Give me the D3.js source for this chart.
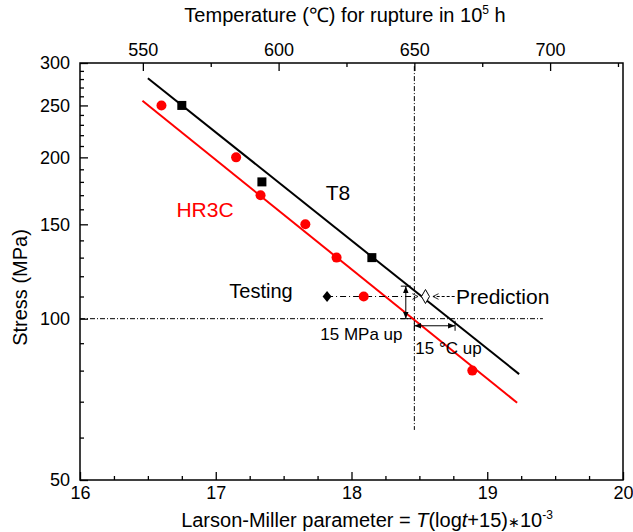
<!DOCTYPE html>
<html>
<head>
<meta charset="utf-8">
<script src="https://cdn.jsdelivr.net/npm/d3@7"></script>
<style>
  body { margin: 0; background: #fff; }
  svg { font-family: "Liberation Sans", Arial, sans-serif; }
  .axis text { font-size: 18px; fill: #000; }
  .axis line { stroke: #000; stroke-width: 1.3; }
  .axis path { display: none; }
</style>
</head>
<body>
<div id="chart"></div>
<script>
const WIDTH        = 633;
const HEIGHT       = 532;
const MARGIN       = { top: 63, right: 10, bottom: 52, left: 80 };
const INNER_WIDTH  = WIDTH - MARGIN.left - MARGIN.right;
const INNER_HEIGHT = HEIGHT - MARGIN.top - MARGIN.bottom;

// data (x = Larson-Miller parameter, y = stress MPa)
const hr3cLmp     = [16.60, 17.15, 17.33, 17.66, 17.89, 18.09, 18.89];
const hr3cStress  = [250, 200, 170, 150, 130, 110, 80];
const t8Lmp       = [16.75, 17.34, 18.15];
const t8Stress    = [250, 180, 130];
const hr3cFitLmp  = [16.46, 19.22];
const hr3cFitSt   = [255, 69.7];
const t8FitLmp    = [16.50, 19.235];
const t8FitSt     = [281, 78.8];
const testingLmp  = [17.82];
const testingSt   = [110];
const predictLmp  = [18.545];
const predictSt   = [110];

// ticks
const lmpMajor    = [16, 17, 18, 19, 20];
const lmpMinor    = [16.25, 16.5, 16.75, 17.25, 17.5, 17.75, 18.25, 18.5, 18.75, 19.25, 19.5, 19.75];
const tempMajor   = [550, 600, 650, 700];
const tempMinor   = [575, 625, 675, 725];
const stressMajor = [50, 100, 150, 200, 250, 300];
const stressMinor = [60, 70, 80, 90, 110, 120, 130, 140, 160, 170, 180, 190, 210, 220, 230, 240, 260, 270, 280, 290];

const svg = d3.select('#chart').append('svg')
  .attr('width', WIDTH)
  .attr('height', HEIGHT)
  .append('g')
    .attr('transform', 'translate(' + MARGIN.left + ',' + MARGIN.top + ')');

const x  = d3.scaleLinear().domain([16, 20]).range([0, INNER_WIDTH]);
// LMP = (T + 273.15) * 0.02 for t = 1e5 h
const xT = d3.scaleLinear().domain([16 / 0.02 - 273.15, 20 / 0.02 - 273.15]).range([0, INNER_WIDTH]);
const y  = d3.scaleLog().domain([50, 300]).range([INNER_HEIGHT, 0]);

// axes, ticks pointing inwards
svg.append('g').attr('class', 'axis')
  .attr('transform', 'translate(0,' + INNER_HEIGHT + ')')
  .call(d3.axisBottom(x).tickValues(lmpMajor).tickSizeInner(-8).tickSizeOuter(0).tickPadding(6).tickFormat(d3.format('d')));
svg.append('g').attr('class', 'axis')
  .attr('transform', 'translate(0,' + INNER_HEIGHT + ')')
  .call(d3.axisBottom(x).tickValues(lmpMinor).tickSize(-4).tickFormat(''));
svg.append('g').attr('class', 'axis')
  .call(d3.axisTop(xT).tickValues(tempMajor).tickSizeInner(-8).tickSizeOuter(0).tickPadding(7).tickFormat(d3.format('d')));
svg.append('g').attr('class', 'axis')
  .call(d3.axisTop(xT).tickValues(tempMinor).tickSize(-4).tickFormat(''));
svg.append('g').attr('class', 'axis')
  .call(d3.axisLeft(y).tickValues(stressMajor).tickSizeInner(-8).tickSizeOuter(0).tickPadding(10).tickFormat(d3.format('d')));
svg.append('g').attr('class', 'axis')
  .call(d3.axisLeft(y).tickValues(stressMinor).tickSize(-4).tickFormat(''));

// frame
svg.append('rect')
  .attr('width', INNER_WIDTH)
  .attr('height', INNER_HEIGHT)
  .attr('fill', 'none')
  .attr('stroke', '#000')
  .attr('stroke-width', 1.5);

// reference lines: 650 C and 100 MPa
svg.append('line')
  .attr('x1', xT(650)).attr('x2', xT(650))
  .attr('y1', y(296)).attr('y2', y(62))
  .attr('stroke', '#000').attr('stroke-width', 1)
  .attr('stroke-dasharray', '5,2,1,2');
svg.append('line')
  .attr('x1', x(16)).attr('x2', x(19.41))
  .attr('y1', y(100)).attr('y2', y(100))
  .attr('stroke', '#000').attr('stroke-width', 1)
  .attr('stroke-dasharray', '5,2,1,2');

// fitted lines
const fit = (xs, ys) => d3.line().x((d, i) => x(xs[i])).y((d, i) => y(ys[i]))(xs);
svg.append('path').attr('d', fit(t8FitLmp, t8FitSt))
  .attr('fill', 'none').attr('stroke', '#000').attr('stroke-width', 2);
svg.append('path').attr('d', fit(hr3cFitLmp, hr3cFitSt))
  .attr('fill', 'none').attr('stroke', '#ff0000').attr('stroke-width', 2);

// arrowhead markers
const defs = svg.append('defs');
defs.append('marker')
  .attr('id', 'open')
  .attr('viewBox', '0 0 10 10')
  .attr('refX', 9).attr('refY', 5)
  .attr('markerWidth', 7).attr('markerHeight', 7)
  .attr('markerUnits', 'userSpaceOnUse')
  .attr('orient', 'auto-start-reverse')
  .append('path')
    .attr('d', 'M1,1 L9,5 L1,9')
    .attr('fill', 'none').attr('stroke', '#000').attr('stroke-width', 1.2);
defs.append('marker')
  .attr('id', 'solid')
  .attr('viewBox', '0 0 10 10')
  .attr('refX', 10).attr('refY', 5)
  .attr('markerWidth', 7).attr('markerHeight', 7)
  .attr('markerUnits', 'userSpaceOnUse')
  .attr('orient', 'auto-start-reverse')
  .append('path')
    .attr('d', 'M0,1 L10,5 L0,9 Z')
    .attr('fill', '#000');

// testing -> 650 C dash-dot arrow
svg.append('line')
  .attr('x1', x(testingLmp[0])).attr('x2', x(18.49))
  .attr('y1', y(testingSt[0])).attr('y2', y(testingSt[0]))
  .attr('stroke', '#000').attr('stroke-width', 1)
  .attr('stroke-dasharray', '6,3,1,3')
  .attr('marker-end', 'url(#open)');
// prediction pointer
svg.append('line')
  .attr('x1', x(18.76)).attr('x2', x(18.60))
  .attr('y1', y(110)).attr('y2', y(110))
  .attr('stroke', '#000').attr('stroke-width', 1)
  .attr('stroke-dasharray', '3,2')
  .attr('marker-end', 'url(#open)');

// 15 MPa up
const mpaX = x(18.40);
svg.append('line')
  .attr('x1', mpaX).attr('x2', mpaX)
  .attr('y1', y(100)).attr('y2', y(115))
  .attr('stroke', '#000').attr('stroke-width', 1)
  .attr('marker-start', 'url(#solid)').attr('marker-end', 'url(#solid)');
[100, 115].forEach(s => {
  svg.append('line')
    .attr('x1', mpaX - 5).attr('x2', mpaX + 5)
    .attr('y1', y(s)).attr('y2', y(s))
    .attr('stroke', '#000').attr('stroke-width', 1);
});
// 15 C up
const cY = y(97);
svg.append('line')
  .attr('x1', xT(650)).attr('x2', xT(665))
  .attr('y1', cY).attr('y2', cY)
  .attr('stroke', '#000').attr('stroke-width', 1)
  .attr('marker-start', 'url(#solid)').attr('marker-end', 'url(#solid)');
[650, 665].forEach(t => {
  svg.append('line')
    .attr('x1', xT(t)).attr('x2', xT(t))
    .attr('y1', cY - 5).attr('y2', cY + 5)
    .attr('stroke', '#000').attr('stroke-width', 1);
});

// markers
svg.selectAll('.hr3c').data(hr3cLmp).enter().append('circle')
  .attr('cx', d => x(d))
  .attr('cy', (d, i) => y(hr3cStress[i]))
  .attr('r', 5)
  .attr('fill', '#ff0000');
svg.selectAll('.t8').data(t8Lmp).enter().append('rect')
  .attr('x', d => x(d) - 4.5)
  .attr('y', (d, i) => y(t8Stress[i]) - 4.5)
  .attr('width', 9).attr('height', 9)
  .attr('fill', '#000');
const diamond = (cx, cy, w, h) => 'M' + cx + ',' + (cy - h) + 'L' + (cx + w) + ',' + cy + 'L' + cx + ',' + (cy + h) + 'L' + (cx - w) + ',' + cy + 'Z';
svg.selectAll('.testing').data(testingLmp).enter().append('path')
  .attr('d', (d, i) => diamond(x(d), y(testingSt[i]), 4.5, 5.5))
  .attr('fill', '#000');
svg.selectAll('.pred').data(predictLmp).enter().append('path')
  .attr('d', (d, i) => diamond(x(d), y(predictSt[i]), 4, 7))
  .attr('fill', '#fff').attr('stroke', '#000').attr('stroke-width', 1);

// labels
const label = (lmp, st, txt, size, color) => svg.append('text')
  .attr('x', x(lmp)).attr('y', y(st))
  .style('font-size', size + 'px')
  .attr('fill', color)
  .text(txt);
label(17.81, 166.5, 'T8', 21, '#000');
label(16.71, 155, 'HR3C', 21, '#ff0000');
label(17.10, 109.5, 'Testing', 20, '#000');
label(18.77, 106.4, 'Prediction', 21, '#000');
label(17.77, 91.3, '15 MPa up', 17, '#000');
label(18.47, 85.8, '15 \u00B0C up', 17, '#000');

// axis titles
const topTitle = svg.append('text')
  .attr('x', 265).attr('y', -41)
  .style('text-anchor', 'middle')
  .style('font-size', '20px');
topTitle.append('tspan').text('Temperature (\u2103) for rupture in 10');
topTitle.append('tspan').attr('dy', -8).style('font-size', '12px').text('5');
topTitle.append('tspan').attr('dy', 8).text(' h');

const bottomTitle = svg.append('text')
  .attr('x', 287).attr('y', INNER_HEIGHT + 47)
  .style('text-anchor', 'middle')
  .style('font-size', '20px');
bottomTitle.append('tspan').text('Larson-Miller parameter = ');
bottomTitle.append('tspan').style('font-style', 'italic').text('T');
bottomTitle.append('tspan').text('(log');
bottomTitle.append('tspan').style('font-style', 'italic').text('t');
bottomTitle.append('tspan').text('+15)');
bottomTitle.append('tspan').style('font-size', '14px').text('\u2217');
bottomTitle.append('tspan').text('10');
bottomTitle.append('tspan').attr('dy', -8).style('font-size', '12px').text('-3');

svg.append('text')
  .attr('transform', 'rotate(-90)')
  .attr('x', -(INNER_HEIGHT / 2) - 16)
  .attr('y', -MARGIN.left + 27)
  .style('text-anchor', 'middle')
  .style('font-size', '20px')
  .text('Stress (MPa)');
</script>
</body>
</html>
